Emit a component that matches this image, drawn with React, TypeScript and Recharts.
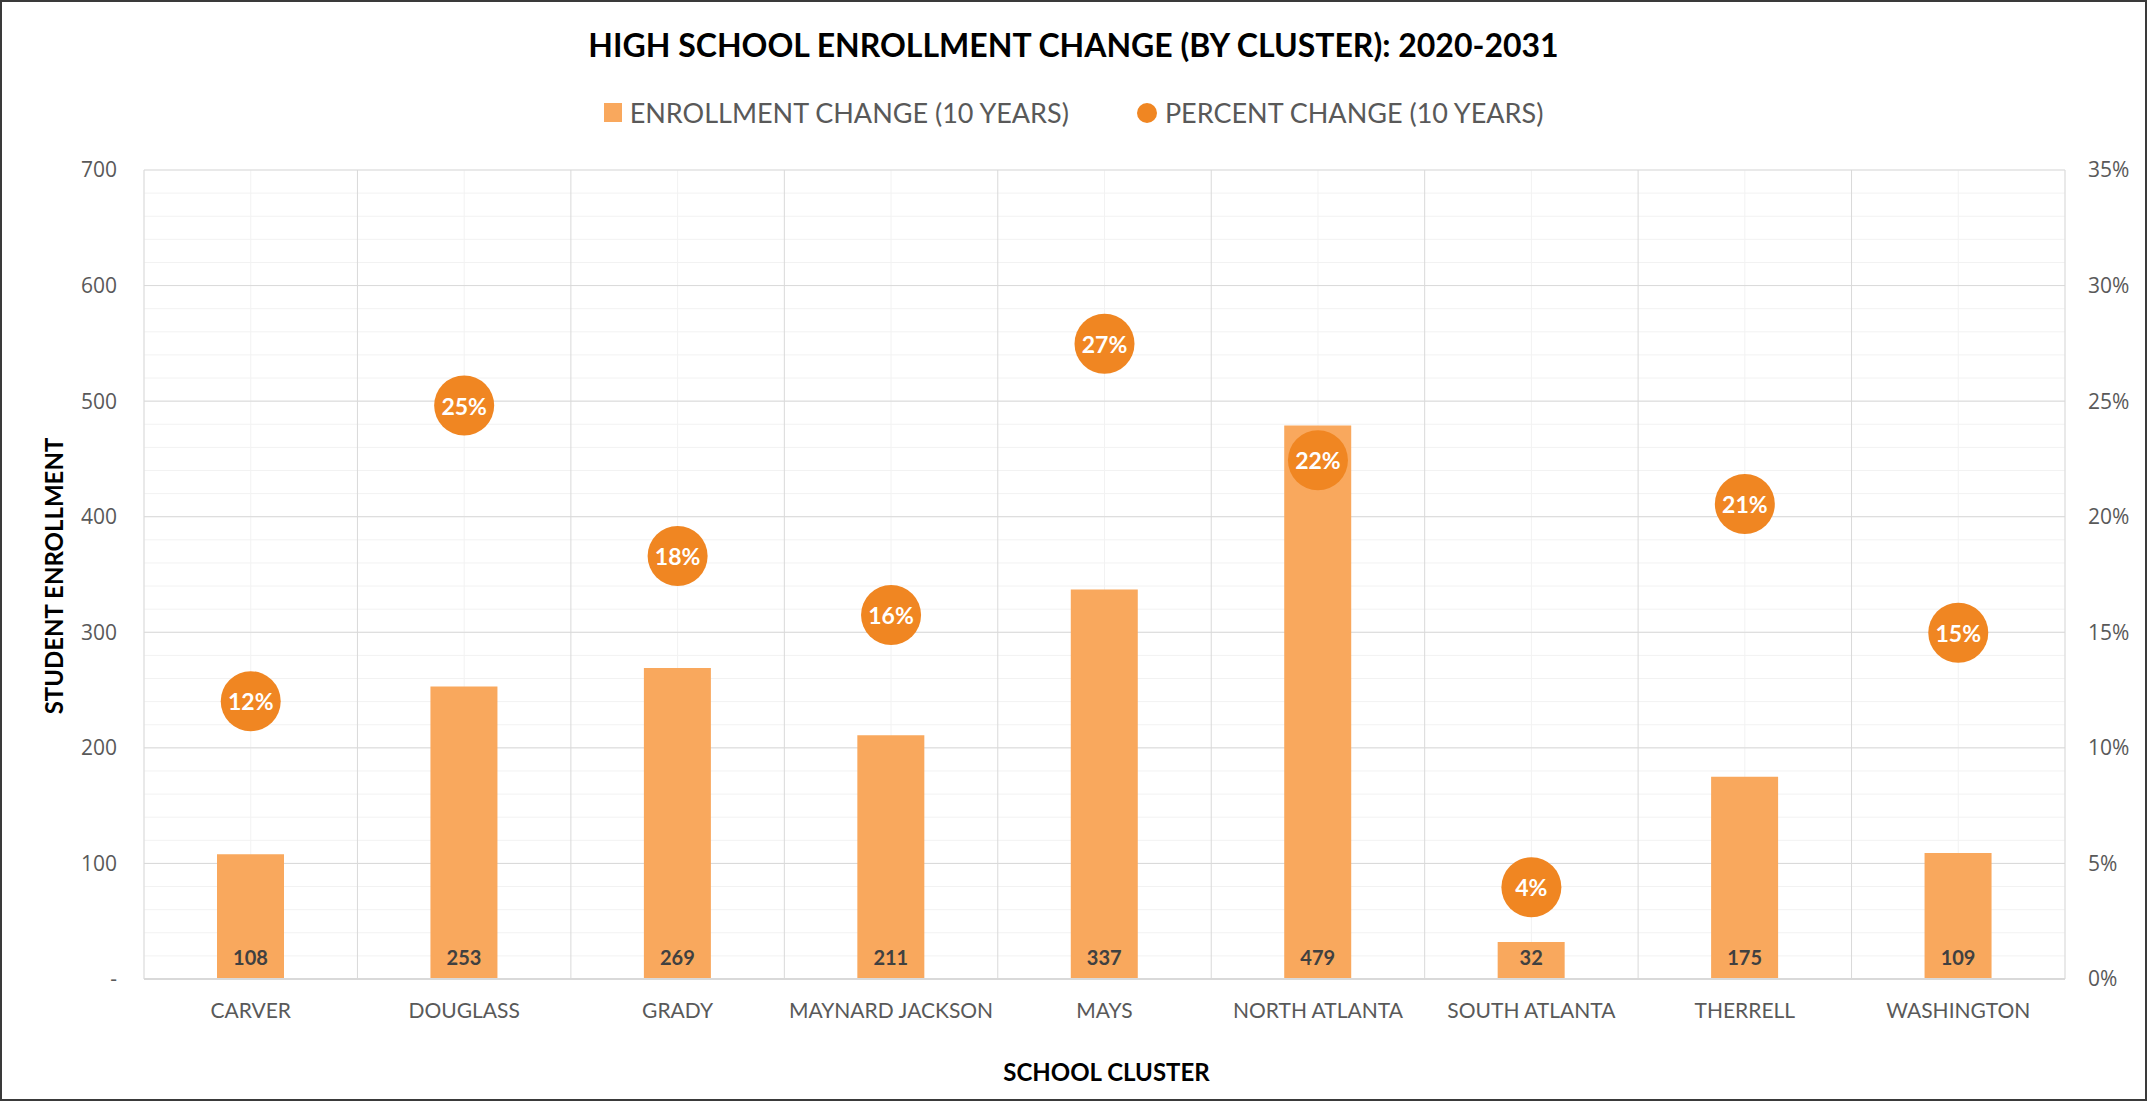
import { ComposedChart, Bar, Line, XAxis, YAxis, CartesianGrid, LabelList } from "recharts";

const clusters = [
  "CARVER",
  "DOUGLASS",
  "GRADY",
  "MAYNARD JACKSON",
  "MAYS",
  "NORTH ATLANTA",
  "SOUTH ATLANTA",
  "THERRELL",
  "WASHINGTON",
];
const enrollmentChange = [108, 253, 269, 211, 337, 479, 32, 175, 109];
const percentChange = [0.1202, 0.2481, 0.183, 0.1575, 0.2748, 0.2244, 0.0397, 0.2055, 0.1498];

const leftTicks = [0, 100, 200, 300, 400, 500, 600, 700];
const minorTicks = [
  0, 20, 40, 60, 80, 100, 120, 140, 160, 180, 200, 220, 240, 260, 280, 300, 320, 340, 360,
  380, 400, 420, 440, 460, 480, 500, 520, 540, 560, 580, 600, 620, 640, 660, 680, 700,
];
const rightTicks = [0, 0.05, 0.1, 0.15, 0.2, 0.25, 0.3, 0.35];
// category boundaries on the index scale (category i is centred on i)
const categoryBounds = [-0.5, 0.5, 1.5, 2.5, 3.5, 4.5, 5.5, 6.5, 7.5, 8.5];

const data = clusters.map((name, i) => ({
  name,
  idx: i,
  enroll: enrollmentChange[i],
  pct: percentChange[i],
}));

const barColor = "#F9A85D";
const dotColor = "#F08622";
const font = "Lato, 'Open Sans', sans-serif";
const numFont = "'Open Sans', sans-serif";

function PercentDot(props: any) {
  const { cx, cy, payload, index } = props;
  if (cx == null || cy == null) return <g key={index} />;
  return (
    <g key={index}>
      <circle cx={cx} cy={cy} r={30} fill={dotColor} />
      <text
        x={cx}
        y={cy}
        textAnchor="middle"
        dominantBaseline="central"
        fill="#ffffff"
        fontFamily={font}
        fontWeight="bold"
        fontSize={23}
      >
        {Math.round(payload.pct * 100) + "%"}
      </text>
    </g>
  );
}

export default function App() {
  return (
    <div
      style={{
        position: "absolute",
        left: 0,
        top: 0,
        width: 2147,
        height: 1101,
        background: "#fff",
        border: "2px solid #3a3a3a",
        boxSizing: "border-box",
        fontFamily: font,
      }}
    >
      <div
        style={{
          position: "absolute",
          top: 23,
          left: 0,
          width: "100%",
          textAlign: "center",
          fontSize: 32,
          fontWeight: "bold",
          color: "#000",
        }}
      >
        HIGH SCHOOL ENROLLMENT CHANGE (BY CLUSTER): 2020-2031
      </div>

      <div
        style={{
          position: "absolute",
          top: 94,
          left: 0,
          width: "100%",
          display: "flex",
          justifyContent: "center",
          alignItems: "center",
          fontSize: 27,
          color: "#595959",
        }}
      >
        <span style={{ display: "inline-block", width: 18, height: 19, background: barColor, marginRight: 8 }} />
        <span>ENROLLMENT CHANGE (10 YEARS)</span>
        <span
          style={{
            display: "inline-block",
            width: 20,
            height: 20,
            borderRadius: "50%",
            background: dotColor,
            marginLeft: 68,
            marginRight: 8,
          }}
        />
        <span>PERCENT CHANGE (10 YEARS)</span>
      </div>

      <div
        style={{
          position: "absolute",
          left: 51,
          top: 574,
          transform: "translate(-50%, -50%) rotate(-90deg)",
          whiteSpace: "nowrap",
          fontSize: 24,
          fontWeight: "bold",
          color: "#000",
        }}
      >
        STUDENT ENROLLMENT
      </div>

      <div
        style={{
          position: "absolute",
          top: 1055,
          left: 144,
          width: 1921,
          textAlign: "center",
          fontSize: 24,
          fontWeight: "bold",
          color: "#000",
        }}
      >
        SCHOOL CLUSTER
      </div>

      <div style={{ position: "absolute", left: -2, top: -2 }}>
        <ComposedChart
          width={2147}
          height={1101}
          data={data}
          margin={{ top: 170, right: 0, left: 0, bottom: 0 }}
        >
          <XAxis
            xAxisId="bounds"
            dataKey="idx"
            type="number"
            domain={[-0.5, 8.5]}
            ticks={categoryBounds}
            allowDataOverflow
            hide
          />
          <YAxis yAxisId="minor" domain={[0, 700]} ticks={minorTicks} allowDataOverflow hide />
          <CartesianGrid yAxisId="minor" xAxisId={0} stroke="#F2F2F2" />
          <CartesianGrid yAxisId="left" xAxisId="bounds" stroke="#D9D9D9" />
          <XAxis
            dataKey="name"
            height={122}
            tickSize={0}
            tickMargin={24}
            tickLine={false}
            axisLine={{ stroke: "#D9D9D9", strokeWidth: 2 }}
            interval={0}
            tick={{ fill: "#595959", fontSize: 21, fontFamily: font }}
          />
          <YAxis
            yAxisId="left"
            width={144}
            domain={[0, 700]}
            ticks={leftTicks}
            allowDataOverflow
            tickSize={0}
            tickMargin={27}
            tickLine={false}
            axisLine={false}
            tickFormatter={(v: number) => (v === 0 ? "-" : String(v))}
            tick={{ fill: "#595959", fontSize: 21, fontFamily: numFont }}
          />
          <YAxis
            yAxisId="right"
            orientation="right"
            width={82}
            domain={[0, 0.35]}
            ticks={rightTicks}
            allowDataOverflow
            tickSize={0}
            tickMargin={23}
            tickLine={false}
            axisLine={false}
            tickFormatter={(v: number) => Math.round(v * 100) + "%"}
            tick={{ fill: "#595959", fontSize: 21, fontFamily: numFont, textAnchor: "start" }}
          />
          <Bar yAxisId="left" dataKey="enroll" fill={barColor} barSize={67} isAnimationActive={false}>
            <LabelList
              dataKey="enroll"
              position="insideBottom"
              offset={14}
              fill="#404040"
              fontSize={20}
              fontWeight="bold"
              fontFamily={font}
            />
          </Bar>
          <Line
            yAxisId="right"
            dataKey="pct"
            stroke="none"
            dot={PercentDot}
            activeDot={false}
            legendType="circle"
            isAnimationActive={false}
          />
        </ComposedChart>
      </div>
    </div>
  );
}
